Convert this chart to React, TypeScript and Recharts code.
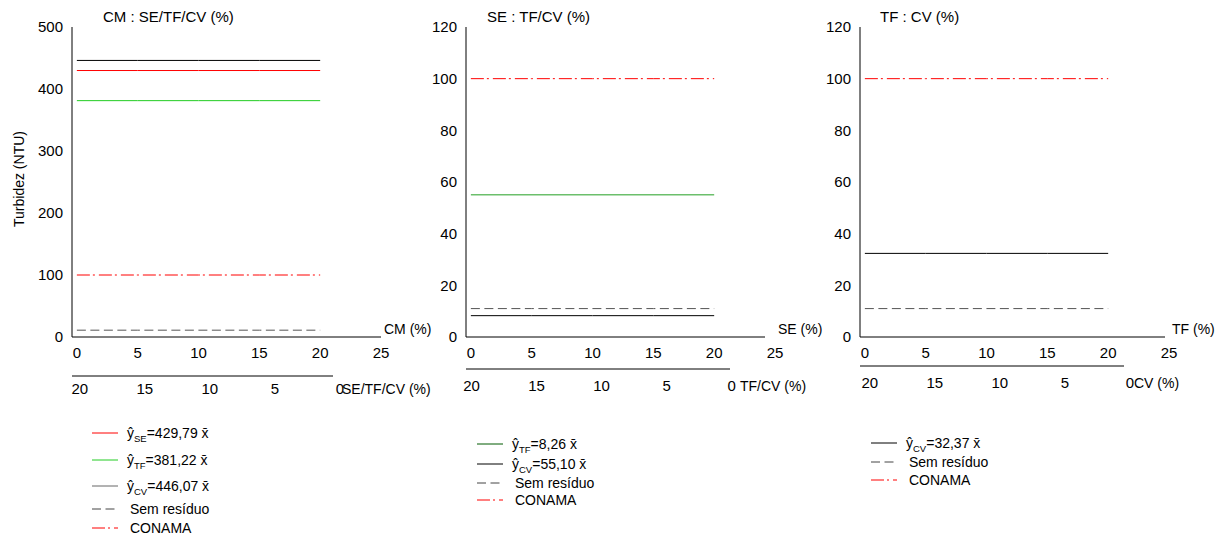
import React from 'react';
import { LineChart, Line, XAxis, YAxis } from 'recharts';

const FONT = '"Liberation Sans", Arial, Helvetica, sans-serif';

// dose of the first component (%), same for all three panels
const dosePct = [0, 5, 10, 15, 20];
const xTicks = [0, 5, 10, 15, 20, 25];
const mixTicks = [20, 15, 10, 5, 0];

// reference levels (NTU)
const semResiduo = [11, 11, 11, 11, 11];
const conama = [100, 100, 100, 100, 100];

// panel 1: CM : SE/TF/CV
const cmSE = [429.79, 429.79, 429.79, 429.79, 429.79];
const cmTF = [381.22, 381.22, 381.22, 381.22, 381.22];
const cmCV = [446.07, 446.07, 446.07, 446.07, 446.07];
const ticksCM = [0, 100, 200, 300, 400, 500];

// panel 2: SE : TF/CV
const seTF = [55.1, 55.1, 55.1, 55.1, 55.1];
const seCV = [8.26, 8.26, 8.26, 8.26, 8.26];
const ticksPct = [0, 20, 40, 60, 80, 100, 120];

// panel 3: TF : CV
const tfCV = [32.37, 32.37, 32.37, 32.37, 32.37];

const RED = '#ff0000';
const DASH = '9 4.5';
const DASH_DOT = '13 3 2 4';

type SeriesDef = { key: string; values: number[]; color: string; width?: number; dash?: string };
type LegendDef = { sub?: string; text: string; color: string; dash?: string };

type PanelDef = {
  left: number;
  width: number;
  yAxisWidth: number;
  yMax: number;
  yTicks: number[];
  yLabel?: string;
  title: string;
  titleDx: number;
  xName: string;
  mixName: string;
  mixNameDx: number;
  mainLineLen: number;
  mixLineLen: number;
  mainAxisH: number;
  mixMargin: number;
  mixDomain: [number, number];
  series: SeriesDef[];
  legend: LegendDef[];
  legendLeft: number;
  legendTop: number;
  legendRowH: number[];
};

const semSeries: SeriesDef = { key: 'sem', values: semResiduo, color: '#555', dash: DASH };
const conamaSeries: SeriesDef = { key: 'conama', values: conama, color: RED, dash: DASH_DOT };

const panels: PanelDef[] = [
  {
    left: 0,
    width: 440,
    yAxisWidth: 72,
    yMax: 500,
    yTicks: ticksCM,
    yLabel: 'Turbidez (NTU)',
    title: 'CM : SE/TF/CV (%)',
    titleDx: 31,
    xName: 'CM (%)',
    mixName: 'SE/TF/CV (%)',
    mixNameDx: 270,
    mainLineLen: 309,
    mixLineLen: 261,
    mainAxisH: 39,
    mixMargin: 7,
    mixDomain: [-3.16, 20.6],
    series: [
      { key: 'cv', values: cmCV, color: '#000' },
      { key: 'se', values: cmSE, color: RED },
      { key: 'tf', values: cmTF, color: '#22cc22' },
      conamaSeries,
      semSeries,
    ],
    legend: [
      { sub: 'SE', text: '=429,79 x\u0304', color: RED },
      { sub: 'TF', text: '=381,22 x\u0304', color: '#22cc22' },
      { sub: 'CV', text: '=446,07 x\u0304', color: '#666' },
      { text: 'Sem resíduo', color: '#444', dash: DASH },
      { text: 'CONAMA', color: RED, dash: DASH_DOT },
    ],
    legendLeft: 92,
    legendTop: 420,
    legendRowH: [26, 27, 25, 21, 17],
  },
  {
    left: 400,
    width: 430,
    yAxisWidth: 66,
    yMax: 120,
    yTicks: ticksPct,
    title: 'SE : TF/CV (%)',
    titleDx: 21,
    xName: 'SE (%)',
    mixName: 'TF/CV (%)',
    mixNameDx: 274,
    mainLineLen: 299,
    mixLineLen: 264,
    mainAxisH: 32,
    mixMargin: 11,
    mixDomain: [-3.34, 20.43],
    series: [
      { key: 'tf', values: seTF, color: '#6cbf6c', width: 1.5 },
      { key: 'cv', values: seCV, color: '#000' },
      conamaSeries,
      semSeries,
    ],
    legend: [
      { sub: 'TF', text: '=8,26 x\u0304', color: '#005a00' },
      { sub: 'CV', text: '=55,10 x\u0304', color: '#000' },
      { text: 'Sem resíduo', color: '#444', dash: DASH },
      { text: 'CONAMA', color: RED, dash: DASH_DOT },
    ],
    legendLeft: 477,
    legendTop: 434,
    legendRowH: [20, 20, 18, 16],
  },
  {
    left: 800,
    width: 423,
    yAxisWidth: 60,
    yMax: 120,
    yTicks: ticksPct,
    title: 'TF : CV (%)',
    titleDx: 20,
    xName: 'TF (%)',
    mixName: 'CV (%)',
    mixNameDx: 274,
    mainLineLen: 305,
    mixLineLen: 264,
    mainAxisH: 29,
    mixMargin: 11,
    mixDomain: [-3.01, 20.76],
    series: [{ key: 'cv', values: tfCV, color: '#000' }, conamaSeries, semSeries],
    legend: [
      { sub: 'CV', text: '=32,37 x\u0304', color: '#000' },
      { text: 'Sem resíduo', color: '#444', dash: DASH },
      { text: 'CONAMA', color: RED, dash: DASH_DOT },
    ],
    legendLeft: 871,
    legendTop: 433,
    legendRowH: [20, 18, 17],
  },
];

const PLOT_TOP = 27;
const PLOT_BOTTOM = 337;
const CHART_H = 540;
const MIX_AXIS_H = 30;
const PLOT_W = 309;

function LegendBlock({ p }: { p: PanelDef }) {
  return (
    <div style={{ position: 'absolute', left: p.legendLeft, top: p.legendTop, fontSize: 14, color: '#000' }}>
      {p.legend.map((item, i) => (
        <div key={i} style={{ height: p.legendRowH[i], display: 'flex', alignItems: 'center' }}>
          <svg width={26} height={4} style={{ display: 'block' }}>
            <line x1={0} y1={2} x2={26} y2={2} stroke={item.color} strokeWidth={1} strokeDasharray={item.dash} />
          </svg>
          <span style={{ marginLeft: item.sub ? 9 : 12, whiteSpace: 'nowrap' }}>
            {item.sub ? (
              <>
                {'\u0177'}
                <span style={{ fontSize: 9.5, position: 'relative', top: 4 }}>{item.sub}</span>
              </>
            ) : null}
            {item.text}
          </span>
        </div>
      ))}
    </div>
  );
}

function Panel({ p }: { p: PanelDef }) {
  const data = dosePct.map((x, i) => {
    const row: Record<string, number> = { x };
    p.series.forEach((s) => {
      row[s.key] = s.values[i];
    });
    return row;
  });
  const right = p.width - p.yAxisWidth - PLOT_W;
  const bottom = CHART_H - PLOT_BOTTOM - p.mainAxisH - MIX_AXIS_H;
  const tick = { fontSize: 15, fill: '#000' };

  return (
    <>
      <div style={{ position: 'absolute', left: p.left, top: 0 }}>
        <LineChart width={p.width} height={CHART_H} data={data} margin={{ top: PLOT_TOP, right, bottom, left: 0 }}>
          <XAxis
            dataKey="x"
            type="number"
            domain={[-0.4, 25]}
            allowDataOverflow
            ticks={xTicks}
            interval={0}
            height={p.mainAxisH}
            tickLine={false}
            tickSize={0}
            tickMargin={10}
            tick={tick}
            axisLine={{ stroke: '#000', strokeDasharray: `${p.mainLineLen} 1000` }}
            label={(lp: any) => (
              <text x={lp.viewBox.x + lp.viewBox.width + 3} y={lp.viewBox.y - 3} fontSize={14} fill="#000">
                {p.xName}
              </text>
            )}
          />
          <XAxis
            xAxisId="mix"
            dataKey="x"
            type="number"
            domain={p.mixDomain}
            reversed
            allowDataOverflow
            ticks={mixTicks}
            interval={0}
            height={MIX_AXIS_H}
            tickLine={false}
            tickSize={0}
            tickMargin={p.mixMargin}
            tick={tick}
            axisLine={{ stroke: '#000', strokeDasharray: `${p.mixLineLen} 1000` }}
            label={(lp: any) => (
              <text x={lp.viewBox.x + p.mixNameDx} y={lp.viewBox.y + p.mixMargin + 10.7} fontSize={14} fill="#000">
                {p.mixName}
              </text>
            )}
          />
          <YAxis
            type="number"
            domain={[0, p.yMax]}
            allowDataOverflow
            ticks={p.yTicks}
            interval={0}
            width={p.yAxisWidth}
            tickLine={false}
            tickSize={0}
            tickMargin={9}
            tick={tick}
            axisLine={{ stroke: '#000' }}
            label={
              p.yLabel
                ? (lp: any) => (
                    <text
                      x={lp.viewBox.x + 19}
                      y={lp.viewBox.y + lp.viewBox.height / 2 - 3}
                      fontSize={14}
                      fill="#000"
                      textAnchor="middle"
                      dominantBaseline="central"
                      transform={`rotate(-90 ${lp.viewBox.x + 19} ${lp.viewBox.y + lp.viewBox.height / 2 - 3})`}
                    >
                      {p.yLabel}
                    </text>
                  )
                : undefined
            }
          />
          {p.series.map((s) => (
            <Line
              key={s.key}
              type="linear"
              dataKey={s.key}
              stroke={s.color}
              strokeWidth={s.width ?? 1}
              strokeDasharray={s.dash}
              dot={false}
              activeDot={false}
              isAnimationActive={false}
            />
          ))}
        </LineChart>
      </div>
      <div
        style={{
          position: 'absolute',
          left: p.left + p.yAxisWidth + p.titleDx,
          top: 9,
          fontSize: 15,
          lineHeight: '15px',
          color: '#000',
          whiteSpace: 'nowrap',
        }}
      >
        {p.title}
      </div>
      <LegendBlock p={p} />
    </>
  );
}

export default function App() {
  return (
    <div
      style={{
        position: 'absolute',
        left: 0,
        top: 0,
        width: 1223,
        height: 540,
        background: '#fff',
        fontFamily: FONT,
        overflow: 'hidden',
      }}
    >
      {panels.map((p, i) => (
        <Panel key={i} p={p} />
      ))}
    </div>
  );
}
